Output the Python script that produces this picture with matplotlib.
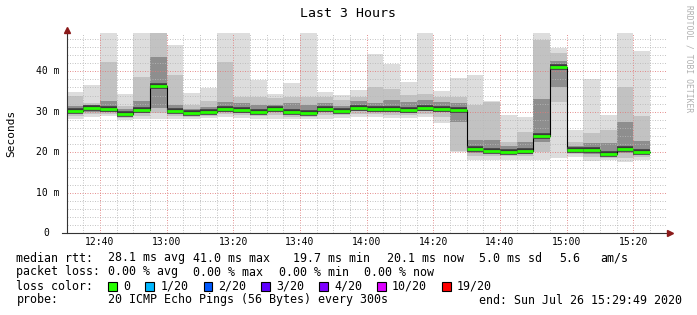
import matplotlib
matplotlib.use("Agg")
import matplotlib.pyplot as plt
import matplotlib.dates as mdates
from matplotlib.ticker import MultipleLocator
from matplotlib.patches import Rectangle
import numpy as np
import pandas as pd

plt.rcParams["font.family"] = ["DejaVu Sans Mono"]

# 5-minute bins starting 12:30 (smoke = spread of the 20 pings, in ms)
rtt_max = [34.9, 36.5, 52.0, 34.4, 52.0, 55.0, 46.6, 34.7, 35.9, 52.0, 52.0, 37.9,
           34.4, 37.2, 52.0, 35.0, 34.1, 35.4, 44.3, 41.7, 37.4, 52.0, 35.1, 38.3,
           39.1, 32.7, 29.2, 28.7, 52.0, 45.8, 25.5, 38.2, 29.2, 52.0, 45.0]
rtt_p90 = [33.9, 32.1, 42.4, 31.4, 38.5, 52.0, 39.2, 31.7, 32.7, 42.2, 33.7, 33.7,
           33.3, 33.7, 33.7, 33.6, 32.9, 33.7, 36.0, 35.6, 34.1, 34.3, 33.7, 33.7,
           31.7, 32.3, 22.6, 25.0, 47.7, 44.6, 22.6, 24.7, 25.5, 36.0, 29.0]
rtt_p75 = [31.4, 31.6, 32.7, 30.6, 32.7, 43.6, 31.7, 30.8, 31.3, 32.5, 32.1, 31.7,
           31.7, 32.1, 31.7, 32.1, 31.5, 32.7, 32.1, 32.9, 32.5, 32.9, 32.3, 32.2,
           23.0, 23.0, 21.5, 22.6, 33.2, 42.5, 21.5, 22.2, 22.2, 27.6, 22.8]
rtt_median = [30.2, 30.9, 30.8, 29.4, 30.5, 36.3, 30.2, 29.8, 29.9, 30.7, 30.4, 30.0,
              30.8, 29.9, 29.8, 30.6, 30.3, 30.9, 30.7, 30.7, 30.4, 30.9, 30.8, 30.4,
              20.7, 20.4, 20.1, 20.4, 23.9, 41.0, 20.6, 20.5, 19.7, 20.8, 20.1]
rtt_p25 = [29.6, 30.0, 30.0, 28.9, 29.6, 31.0, 29.6, 29.3, 29.4, 30.0, 29.8, 29.5,
           30.0, 29.4, 29.3, 29.9, 29.7, 30.1, 30.0, 30.0, 29.8, 30.1, 30.0, 27.5,
           19.9, 19.8, 19.6, 19.7, 22.5, 36.0, 20.0, 19.7, 19.2, 19.8, 19.5]
rtt_p10 = [29.0, 29.4, 29.5, 28.4, 28.9, 29.6, 29.0, 28.8, 28.9, 29.4, 29.1, 28.9,
           29.3, 28.8, 28.8, 29.2, 29.1, 29.5, 29.4, 29.3, 29.1, 29.4, 28.8, 20.4,
           19.0, 19.0, 19.0, 19.0, 20.0, 32.5, 19.5, 18.9, 18.6, 18.6, 18.8]
rtt_min = [28.1, 28.6, 29.0, 28.0, 28.1, 28.1, 28.1, 28.1, 28.4, 28.8, 28.4, 28.3,
           28.1, 28.1, 28.1, 28.1, 28.4, 28.6, 28.6, 28.4, 28.4, 28.6, 27.2, 20.1,
           18.1, 18.1, 18.0, 18.1, 18.1, 18.7, 18.9, 17.9, 18.1, 17.7, 18.1]

ytick_vals = [0, 10, 20, 30, 40]
ytick_labels = ["0", "10 m", "20 m", "30 m", "40 m"]

rtt_stats = ["28.1 ms avg", "41.0 ms max", "19.7 ms min", "20.1 ms now", "5.0 ms sd", "5.6", "am/s"]
loss_stats = ["0.00 % avg", "0.00 % max", "0.00 % min", "0.00 % now"]
loss_names = ["0", "1/20", "2/20", "3/20", "4/20", "10/20", "19/20"]
loss_colors = ["#26ff00", "#00b8ff", "#0059ff", "#5e00ff", "#7e00ff", "#dd00ff", "#ff0000"]

W, H = 697, 315
fig = plt.figure(figsize=(W / 100, H / 100), dpi=100)
fig.patch.set_facecolor("white")
ax = fig.add_axes([66.7 / W, 1 - 233.3 / H, 600 / W, 200.3 / H])

t = pd.date_range("2020-07-26 12:30", periods=len(rtt_median), freq="5min")
x = mdates.date2num(t)
step = 5 / 1440


def smoke(lo, hi, color):
    lo = np.array(lo)
    ax.bar(x, np.array(hi) - lo, bottom=lo, width=step, align="edge",
           color=color, linewidth=0, zorder=1)


smoke(rtt_min, rtt_max, "#dddddd")
smoke(rtt_p10, rtt_p90, "#c2c2c2")
smoke(rtt_p25, rtt_p75, "#8e8e8e")

med = np.array(rtt_median)
ax.step(np.append(x, x[-1] + step), np.append(med, med[-1]), where="post",
        color="black", lw=0.8, zorder=3)
ax.hlines(med, x, x + step, colors="#3a3a3a", lw=4.0, zorder=3.5)
ax.hlines(med, x, x + step, colors=loss_colors[0], lw=2.0, zorder=4)

ax.set_xlim(x[0], x[0] + 180 / 1440)
ax.set_ylim(0, 49.45)

ax.xaxis.set_major_locator(mdates.MinuteLocator(byminute=[0, 20, 40]))
ax.xaxis.set_minor_locator(mdates.MinuteLocator(byminute=range(0, 60, 5)))
ax.xaxis.set_major_formatter(mdates.DateFormatter("%H:%M"))
ax.yaxis.set_major_locator(MultipleLocator(10))
ax.yaxis.set_minor_locator(MultipleLocator(2))
ax.set_yticklabels([])

ax.set_axisbelow(False)
ax.grid(which="minor", color="#b8b8b8", ls=(0, (1, 1.5)), lw=0.72, alpha=0.8)
ax.grid(which="major", color="#e07a7a", ls=(0, (1, 1.5)), lw=0.72, alpha=0.8)
ax.tick_params(which="both", length=0)
ax.tick_params(axis="x", pad=3, labelsize=7)

for s in ax.spines.values():
    s.set_visible(False)
ax.plot([0, 0], [0, 1.02], transform=ax.transAxes, clip_on=False, color="#333333", lw=0.8, zorder=5)
ax.plot([-0.008, 1.003], [0, 0], transform=ax.transAxes, clip_on=False, color="#333333", lw=0.8, zorder=5)
ax.plot(0, 1.015, marker="^", ms=4.5, color="#8b1a1a", transform=ax.transAxes, clip_on=False, zorder=6)
ax.plot(1.0055, 0, marker=">", ms=4.5, color="#8b1a1a", transform=ax.transAxes, clip_on=False, zorder=6)

ytrans = ax.get_yaxis_transform()
for v, lab in zip(ytick_vals, ytick_labels):
    if v == 0:
        ax.text(-20 / 600, v, lab, transform=ytrans, ha="center", va="center", fontsize=7)
    else:
        ax.text(-7 / 600, v, lab, transform=ytrans, ha="right", va="center", fontsize=7)


def px(xp, yp):
    return xp / W, 1 - yp / H


fig.text(*px(348, 13.5), "Last 3 Hours", ha="center", va="center", fontsize=9.5)
fig.text(*px(11, 133), "Seconds", rotation=90, ha="center", va="center", fontsize=8)
fig.text(*px(689, 5), "RRDTOOL / TOBI OETIKER", rotation=270, ha="center", va="top",
         fontsize=5.8, color="#b0b0b0")

fs = 8.4
row_y = [258, 272, 286, 300]
fig.text(*px(16.5, row_y[0]), "median rtt:", va="center", fontsize=fs)
for xp, s in zip([107.6, 193.3, 293.3, 386.7, 479, 559, 600], rtt_stats):
    fig.text(*px(xp, row_y[0]), s, va="center", fontsize=fs)

fig.text(*px(16.5, row_y[1]), "packet loss:", va="center", fontsize=fs)
for xp, s in zip([107.6, 193.3, 279, 364.4], loss_stats):
    fig.text(*px(xp, row_y[1]), s, va="center", fontsize=fs)

fig.text(*px(16.5, row_y[2]), "loss color:", va="center", fontsize=fs)
for xp, s, c in zip([108, 145.3, 203.6, 261.3, 319, 377, 442], loss_names, loss_colors):
    fig.patches.append(Rectangle(px(xp, row_y[2] + 4.5), 8.5 / W, 9 / H, transform=fig.transFigure,
                                 facecolor=c, edgecolor="black", lw=0.8))
    fig.text(*px(xp + 15, row_y[2]), s, va="center", fontsize=fs)

fig.text(*px(16.5, row_y[3]), "probe:", va="center", fontsize=fs)
fig.text(*px(107.6, row_y[3]), "20 ICMP Echo Pings (56 Bytes) every 300s", va="center", fontsize=fs)
fig.text(*px(479, row_y[3]), "end: Sun Jul 26 15:29:49 2020", va="center", fontsize=fs)

fig.savefig("out.png", dpi=100)
